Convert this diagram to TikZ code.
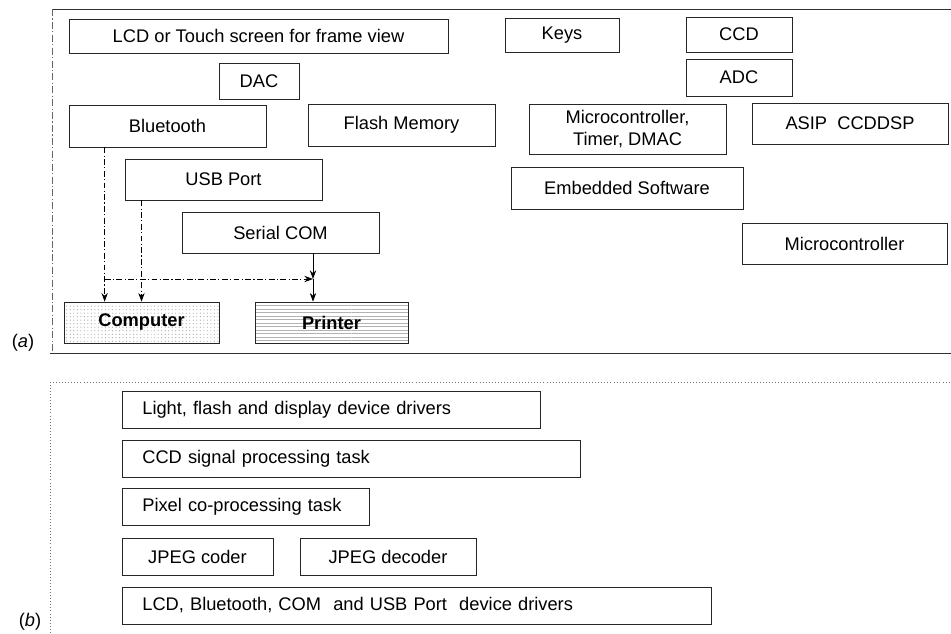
\documentclass[tikz,border=0pt]{standalone}
\usepackage{fontspec}
\setmainfont{Liberation Sans}
\usepackage{tikz}
\usetikzlibrary{patterns,arrows.meta}
\tikzstyle{unit} = [rectangle, draw=black!85, line width=0.6pt, text centered, inner sep=2pt, font=\fontsize{15.6}{18}\selectfont]
\tikzstyle{task} = [unit, align=left, anchor=west, inner xsep=0.6cm, minimum height=1.11cm]
\tikzstyle{arrow} = [line width=0.6pt,->,>={Stealth[length=2.6mm,width=1.9mm]}]
\tikzstyle{link} = [arrow, dash pattern=on 5pt off 2pt on 1pt off 2pt]
\tikzstyle{frame} = [line width=0.6pt, black!80]
\tikzstyle{tag} = [font=\fontsize{15.6}{18}\selectfont]

\begin{document}
\begin{tikzpicture}[x=0.03cm, y=-0.03cm]
    \useasboundingbox (0,0) rectangle (951,633);
    % (a) hardware units
    \draw [frame] (52,9) -- (951,9);
    \draw [frame, black!60, dash pattern=on 6pt off 2pt on 1pt off 2pt] (52,9) -- (52,353);
    \draw [frame] (50,353) -- (951,353);
    \node (LCD) [unit, minimum width=11.37cm, minimum height=1.02cm] at (258.5,36) {LCD or Touch screen for frame view};
    \node (Keys) [unit, minimum width=3.42cm, minimum height=1.02cm] at (562,35) {Keys};
    \node (CCD) [unit, minimum width=3.18cm, minimum height=1.05cm] at (739,34.5) {CCD};
    \node (ADC) [unit, minimum width=3.18cm, minimum height=1.11cm] at (739,77.5) {ADC};
    \node (DAC) [unit, minimum width=2.4cm, minimum height=1.08cm] at (259,81) {DAC};
    \node (Bluetooth) [unit, minimum width=5.91cm, minimum height=1.26cm] at (167.5,126) {Bluetooth};
    \node (Flash) [unit, minimum width=5.61cm, minimum height=1.26cm] at (401.5,125) {Flash Memory};
    \node (MicroTimer) [unit, align=center, minimum width=5.91cm, minimum height=1.5cm] at (627.5,129) {Microcontroller,\\Timer, DMAC};
    \node (ASIP) [unit, minimum width=5.88cm, minimum height=1.23cm] at (850,123.5) {ASIP\ \ CCDDSP};
    \node (USB) [unit, minimum width=5.91cm, minimum height=1.23cm] at (223.5,179.5) {USB Port};
    \node (Embedded) [unit, minimum width=6.96cm, minimum height=1.26cm] at (627,188) {Embedded Software};
    \node (Serial) [unit, minimum width=5.91cm, minimum height=1.23cm] at (280.5,232.5) {Serial COM};
    \node (Micro) [unit, minimum width=6.15cm, minimum height=1.23cm] at (844.5,243.5) {Microcontroller};
    \node (Computer) [unit, pattern=dots, pattern color=black!35, minimum width=4.65cm, minimum height=1.23cm] at (141.5,322.5) {\textbf{Computer}};
    \node (Printer) [unit, pattern=horizontal lines, pattern color=black!30, minimum width=4.59cm, minimum height=1.23cm] at (331.5,322.5) {\textbf{Printer}};
    \coordinate (btline) at ([xshift=1.08cm]Bluetooth.south west);
    \coordinate (join) at (313,279);
    \draw [link] (btline) -- (btline |- Computer.north);
    \draw [link] (USB.south -| Computer.north) -- (Computer.north);
    \draw [link] (btline |- join) -- (join);
    \draw [arrow] (Serial.south -| join) -- (join);
    \draw [arrow] (join) -- (join |- Printer.north);
    \node (labA) [tag] at (23,343) {(\textit{a})};
    % (b) software tasks
    \draw [frame, black!55, dotted] (50,382) -- (951,382);
    \draw [frame, black!55, dotted] (50,382) -- (50,633);
    \node (Light) [task, text width=11.34cm] at (122,409.5) {Light, flash and display device drivers};
    \node (CCDtask) [task, text width=12.54cm] at (122,458.5) {CCD signal processing task};
    \node (Pixel) [task, text width=6.21cm] at (122,507) {Pixel co-processing task};
    \node (Coder) [unit, minimum width=4.53cm, minimum height=1.11cm] at (197.5,556.5) {JPEG coder};
    \node (Decoder) [unit, minimum width=5.28cm, minimum height=1.11cm] at (388,556.5) {JPEG decoder};
    \node (Drivers) [task, text width=16.47cm] at (122,605.5) {LCD, Bluetooth, COM\ \ and USB Port\ \ device drivers};
    \node (labB) [tag] at (30,622) {(\textit{b})};
\end{tikzpicture}
\end{document}
